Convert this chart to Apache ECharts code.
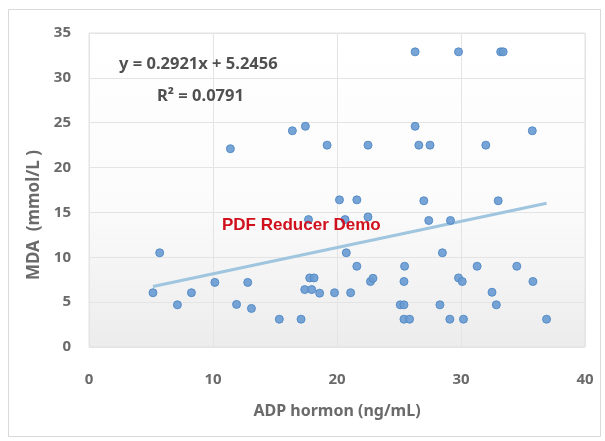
<!DOCTYPE html>
<html>
<head>
<meta charset="utf-8">
<script src="https://cdn.jsdelivr.net/npm/echarts@6/dist/echarts.min.js"></script>
<style>
  html, body { margin: 0; padding: 0; background: #ffffff; }
  #chart { width: 605px; height: 441px; }
</style>
</head>
<body>
<div id="chart"></div>
<script>
// ADP hormone level (ng/mL) per subject
const adp = [
  26.3, 29.8, 33.2, 33.4,
  16.4, 17.45, 26.3, 35.75,
  11.4, 19.2, 22.5, 26.6, 27.5, 32.0,
  20.2, 21.6, 27.0, 33.0,
  17.7, 20.65, 22.5, 27.4, 29.15,
  5.7, 20.75, 28.5,
  21.6, 25.45, 31.3, 34.5,
  10.15, 12.8, 17.8, 18.15, 22.7, 22.9, 25.4, 29.8, 30.1, 35.8,
  5.16, 8.26, 17.4, 17.96, 18.6, 19.8, 21.1, 32.5,
  7.13, 11.9, 13.1, 25.1, 25.4, 28.3, 32.85,
  15.35, 17.1, 25.4, 25.85, 29.1, 30.2, 36.9
];
// MDA concentration (mmol/L) for the same subjects
const mda = [
  32.9, 32.9, 32.9, 32.9,
  24.1, 24.6, 24.6, 24.1,
  22.1, 22.5, 22.5, 22.5, 22.5, 22.5,
  16.4, 16.4, 16.3, 16.3,
  14.2, 14.2, 14.5, 14.1, 14.1,
  10.5, 10.5, 10.5,
  9.0, 9.0, 9.0, 9.0,
  7.2, 7.2, 7.7, 7.7, 7.3, 7.65, 7.3, 7.7, 7.3, 7.3,
  6.05, 6.05, 6.4, 6.4, 6.0, 6.05, 6.05, 6.1,
  4.7, 4.75, 4.3, 4.7, 4.7, 4.7, 4.7,
  3.1, 3.1, 3.1, 3.1, 3.1, 3.1, 3.1
];
// Linear fit reported on the chart
const slope = 0.2921;
const intercept = 5.2456;
const rSquared = 0.0791;
const xTicks = [0, 10, 20, 30, 40];
const yTicks = [0, 5, 10, 15, 20, 25, 30, 35];

const points = adp.map((x, i) => [x, mda[i]]);
const xMin = Math.min(...adp), xMax = Math.max(...adp);
const fitLine = [[xMin, slope * xMin + intercept], [xMax, slope * xMax + intercept]];

const labelFont = '"Noto Sans", "DejaVu Sans", sans-serif';
const chart = echarts.init(document.getElementById('chart'), null, { renderer: 'canvas' });

chart.setOption({
  backgroundColor: '#ffffff',
  animation: false,
  grid: {
    left: 89, right: 20, top: 33, bottom: 94,
    show: true,
    borderColor: '#e3e3e3',
    borderWidth: 1,
    backgroundColor: new echarts.graphic.LinearGradient(0, 0, 0, 1, [
      { offset: 0, color: '#ffffff' },
      { offset: 0.55, color: '#fbfbfb' },
      { offset: 1, color: '#ececec' }
    ])
  },
  xAxis: {
    type: 'value',
    min: xTicks[0], max: xTicks[xTicks.length - 1], interval: xTicks[1] - xTicks[0],
    name: 'ADP hormon (ng/mL)',
    nameLocation: 'middle',
    nameGap: 56,
    nameTextStyle: { fontFamily: labelFont, fontSize: 16, fontWeight: 'bold', color: '#6a6a6a' },
    axisLine: { show: false },
    axisTick: { show: false },
    axisLabel: { margin: 25, fontFamily: labelFont, fontSize: 15, fontWeight: 'bold', color: '#6a6a6a' },
    splitLine: { show: true, lineStyle: { color: '#e4e4e4', width: 1 } }
  },
  yAxis: {
    type: 'value',
    min: yTicks[0], max: yTicks[yTicks.length - 1], interval: yTicks[1] - yTicks[0],
    name: 'MDA  (mmol/L )',
    nameLocation: 'middle',
    nameGap: 40,
    nameTextStyle: { fontFamily: labelFont, fontSize: 17, fontWeight: 'bold', color: '#6a6a6a', padding: [0, 50, 0, 0] },
    axisLine: { show: false },
    axisTick: { show: false },
    axisLabel: { margin: 18, fontFamily: labelFont, fontSize: 15, fontWeight: 'bold', color: '#6a6a6a' },
    splitLine: { show: true, lineStyle: { color: '#e4e4e4', width: 1 } }
  },
  series: [
    {
      type: 'line',
      data: fitLine,
      showSymbol: false,
      symbol: 'none',
      lineStyle: { color: '#9fc5df', width: 3 },
      z: 2
    },
    {
      type: 'scatter',
      data: points,
      symbol: 'circle',
      symbolSize: 8,
      itemStyle: { color: '#6a9cd2', borderColor: '#5189c4', borderWidth: 1, opacity: 0.92 },
      z: 3
    }
  ],
  graphic: [
    {
      type: 'rect', silent: true, z: -1,
      shape: { x: 8.5, y: 9.5, width: 592, height: 427 },
      style: { fill: null, stroke: '#d9d9d9', lineWidth: 1 }
    },
    {
      type: 'text', left: 119, top: 56, z: 10,
      style: { text: 'y = ' + slope + 'x + ' + intercept, fontFamily: labelFont, fontSize: 16.5, fontWeight: 'bold', fill: '#505050' }
    },
    {
      type: 'text', left: 157, top: 88, z: 10,
      style: { text: 'R\u00b2 = ' + rSquared, fontFamily: labelFont, fontSize: 16.5, fontWeight: 'bold', fill: '#505050' }
    },
    {
      type: 'text', left: 222, top: 217, z: 10,
      style: { text: 'PDF Reducer Demo', fontFamily: '"Liberation Sans", Arial, sans-serif', fontSize: 17, fontWeight: 'bold', fill: '#d0101c' }
    }
  ]
});
</script>
</body>
</html>
